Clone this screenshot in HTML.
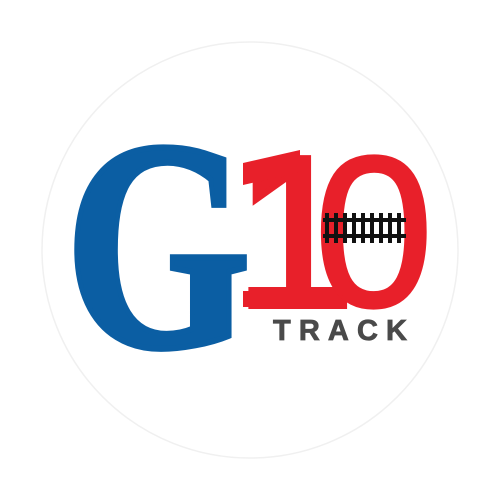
<!DOCTYPE html>
<html><head><meta charset="utf-8"><style>html,body{margin:0;padding:0;background:#fff}svg{display:block}</style></head>
<body>
<svg width="500" height="500" viewBox="0 0 500 500">
<circle cx="250" cy="250" r="208" fill="#fff" stroke="#f0f0f0" stroke-width="1.5"/>
<text x="65" y="346" font-family="Liberation Serif, serif" font-weight="bold" font-size="300" fill="#0b5ea3" stroke="#0b5ea3" stroke-width="6" textLength="186" lengthAdjust="spacingAndGlyphs">G</text>
<text x="235" y="306" font-family="Liberation Sans, sans-serif" font-size="215" fill="#e8202a" stroke="#e8202a" stroke-width="6">1</text>
<polygon points="243,163 300,150 300,172 243,185" fill="#e8202a"/>
<rect x="243" y="291" width="82" height="16" fill="#e8202a"/>
<text x="314" y="306" font-family="Liberation Sans, sans-serif" font-size="215" fill="#e8202a" stroke="#e8202a" stroke-width="3">0</text>
<g>
<rect x="323" y="218" width="83" height="4" fill="#111"/>
<rect x="323" y="234" width="83" height="4" fill="#111"/>
<g fill="#111">
<rect x="325" y="213" width="4" height="30"/><rect x="334" y="213" width="4" height="30"/><rect x="343" y="213" width="4" height="30"/><rect x="352" y="213" width="4" height="30"/><rect x="361" y="213" width="4" height="30"/><rect x="370" y="213" width="4" height="30"/><rect x="379" y="213" width="4" height="30"/><rect x="388" y="213" width="4" height="30"/><rect x="397" y="213" width="4" height="30"/>
</g>
</g>
<text x="273" y="340" font-family="Liberation Sans, sans-serif" font-weight="bold" font-size="29" fill="#4a4a4a" stroke="#4a4a4a" stroke-width="0.8" textLength="134" lengthAdjust="spacing">TRACK</text>
</svg>
</body></html>
